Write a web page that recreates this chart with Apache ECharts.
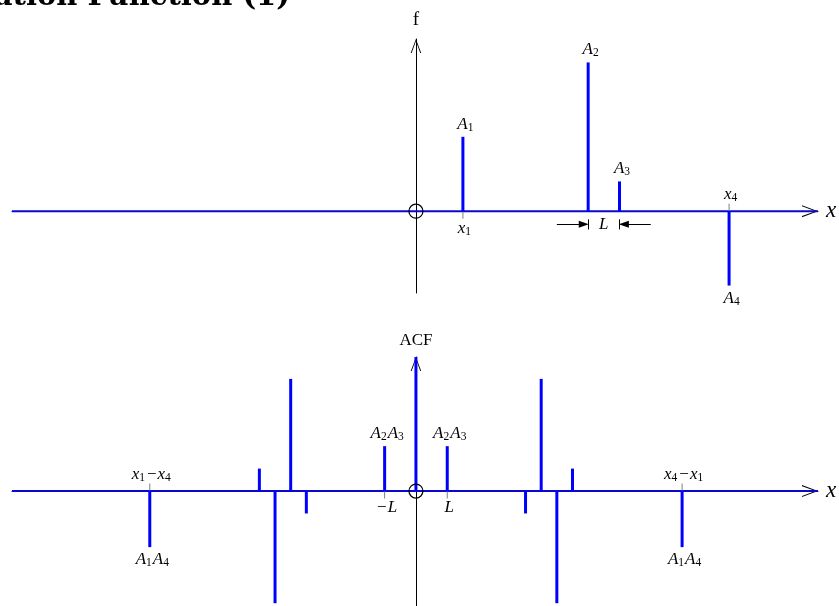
<!DOCTYPE html>
<html>
<head>
<meta charset="utf-8">
<script src="https://cdn.jsdelivr.net/npm/echarts@6/dist/echarts.min.js"></script>
<style>
  html, body { margin: 0; padding: 0; background: #fff; }
  #chart { width: 839px; height: 606px; }
</style>
</head>
<body>
<div id="chart"></div>
<script>
// Signal f(x): four impulses at x1..x4 with amplitudes A1..A4
const fPos = [1.5, 5.5, 6.5, 10];
const fAmp = [1, 2, 0.4, -1];
const fLabels = ['A1', 'A2', 'A3', 'A4'];

// Its autocorrelation: lags and values (the zero-lag peak runs off the top)
const acfLag = [-8.5, -5, -4.5, -4, -3.5, -1, 0, 1, 3.5, 4, 4.5, 5, 8.5];
const acfVal = [-1, 0.4, -2, 2, -0.4, 0.8, 2.39, 0.8, -0.4, 2, -2, 0.4, -1];
const acfLabels = ['A1A4', '', '', '', '', 'A2A3', '', 'A2A3', '', '', '', '', 'A1A4'];

// Marked positions along the x axes
const fTickPos = [1.5, 10];
const fTickLabels = ['x1', 'x4'];
const acfTickPos = [-8.5, -1, 1, 8.5];
const acfTickLabels = ['x1−x4', '−L', 'L', 'x4−x1'];

// Axis ranges
const xRange = [-12.9, 12.84];
const fRange = [-1.1, 2.315];
const acfRange = [-2.05, 2.39];

const SERIF = "'Liberation Serif', 'DejaVu Serif', serif";
const BLUE = '#0000ff';

// Math-style label: letters italic, digits as subscripts, minus upright
function mathText(s) {
  let out = '';
  for (const ch of s) {
    if (/[0-9]/.test(ch)) out += '{s|' + ch + '}';
    else if (ch === '−') out += '{m|−}';
    else out += '{i|' + ch + '}';
  }
  return out;
}
const mathRich = {
  i: { fontFamily: SERIF, fontStyle: 'italic', fontSize: 17, color: '#000' },
  s: { fontFamily: SERIF, fontSize: 11.5, color: '#000', padding: [7, 1, 0, 0] },
  m: { fontFamily: SERIF, fontSize: 17, color: '#000', padding: [0, 1, 0, 1] }
};

// Open chevron used as axis arrow heads
const chevron = 'path://M0,16 L6,0 L12,16 L10.9,16 L6,2.6 L1.1,16 Z';

function xAxisOf(gridIndex) {
  return {
    gridIndex, type: 'value', min: xRange[0], max: xRange[1],
    axisLine: {
      show: true, onZero: true,
      lineStyle: { color: '#000', width: 1 },
      symbol: ['none', chevron], symbolSize: [12, 16], symbolOffset: [0, -8]
    },
    axisTick: { show: false }, axisLabel: { show: false }, splitLine: { show: false },
    name: 'x', nameLocation: 'end', nameGap: 8,
    nameTextStyle: { fontFamily: SERIF, fontStyle: 'italic', fontSize: 23, color: '#000', verticalAlign: 'middle', padding: [0, 0, 4, 0] }
  };
}
function yAxisOf(gridIndex, range, name, gap) {
  return {
    gridIndex, type: 'value', min: range[0], max: range[1],
    axisLine: {
      show: true, onZero: true,
      lineStyle: { color: '#000', width: 1 },
      symbol: ['none', chevron], symbolSize: [12, 14], symbolOffset: [0, -7]
    },
    axisTick: { show: false }, axisLabel: { show: false }, splitLine: { show: false },
    name, nameLocation: 'end', nameGap: gap,
    nameTextStyle: { fontFamily: SERIF, fontSize: name === 'f' ? 19 : 17, color: '#000' }
  };
}

function baseline(idx) {
  return {
    type: 'line', xAxisIndex: idx, yAxisIndex: idx, silent: true, z: 3,
    data: [[xRange[0], 0], [xRange[1], 0]], symbol: 'none',
    lineStyle: { color: '#0808d0', width: 2 }
  };
}
function spikes(idx, xs, ys, labels) {
  return {
    type: 'bar', xAxisIndex: idx, yAxisIndex: idx, barWidth: 3, z: 4, silent: true,
    itemStyle: { color: BLUE },
    data: xs.map((x, i) => ({
      value: [x, ys[i]],
      label: {
        show: labels[i] !== '',
        position: ys[i] >= 0 ? 'top' : 'bottom',
        distance: 3,
        offset: [3, 0],
        formatter: mathText(labels[i]),
        rich: mathRich
      }
    }))
  };
}
// Short gray ticks on the side opposite the impulse, with their captions
function ticks(idx, xs, labels, sideOf) {
  return {
    type: 'scatter', xAxisIndex: idx, yAxisIndex: idx, z: 5, silent: true,
    symbol: 'rect',
    itemStyle: { color: '#7f7f7f', opacity: 1 },
    data: xs.map((x, i) => {
      const below = sideOf(x) > 0;
      return {
        value: [x, 0],
        symbolSize: [1, 7],
        symbolOffset: [0, below ? 4 : -4],
        label: {
          show: true,
          color: '#000',
          position: below ? 'bottom' : 'top',
          distance: 0,
          offset: [2, 0],
          formatter: mathText(labels[i]),
          rich: mathRich
        }
      };
    })
  };
}
function origin(idx) {
  return {
    type: 'scatter', xAxisIndex: idx, yAxisIndex: idx, z: 6, silent: true,
    data: [[0, 0]], symbol: 'circle', symbolSize: 14,
    itemStyle: { color: 'rgba(0,0,0,0)', borderColor: '#000', borderWidth: 1.2, opacity: 1 }
  };
}

const ampAt = (xs, ys) => x => ys[xs.indexOf(x)];

// Dimension marker showing the spacing L between x2 and x3
const dimY = -0.175;
const dimExt = [-0.11, -0.245];
const dimension = {
  type: 'line', xAxisIndex: 0, yAxisIndex: 0, data: [], silent: true, z: 5,
  markLine: {
    silent: true, animation: false,
    symbol: ['none', 'triangle'], symbolSize: [7, 10],
    lineStyle: { color: '#000', width: 1, type: 'solid' },
    label: { show: false },
    data: [
      [{ coord: [fPos[1] - 1, dimY] }, { coord: [fPos[1] - 0.14, dimY] }],
      [{ coord: [fPos[2] + 1, dimY] }, { coord: [fPos[2] + 0.14, dimY] }],
      [{ coord: [fPos[1], dimExt[0]], symbol: 'none' }, { coord: [fPos[1], dimExt[1]], symbol: 'none' }],
      [{ coord: [fPos[2], dimExt[0]], symbol: 'none' }, { coord: [fPos[2], dimExt[1]], symbol: 'none' }]
    ]
  },
  markPoint: {
    silent: true, animation: false, symbol: 'circle', symbolSize: 1,
    itemStyle: { color: 'rgba(0,0,0,0)' },
    label: { show: true, position: 'inside', formatter: mathText('L'), rich: mathRich },
    data: [{ coord: [(fPos[1] + fPos[2]) / 2, dimY] }]
  }
};

const chart = echarts.init(document.getElementById('chart'));
chart.setOption({
  animation: false,
  backgroundColor: '#fff',
  title: {
    text: 'Autocorrelation Function (1)',
    right: 549, top: -17, padding: 0,
    textStyle: { fontFamily: "'DejaVu Serif', serif", fontWeight: 'bold', fontSize: 29, color: '#000' }
  },
  grid: [
    { left: 12, right: 21, top: 39, height: 254, outerBoundsMode: 'none' },
    { left: 12, right: 21, top: 357, height: 249, outerBoundsMode: 'none' }
  ],
  xAxis: [xAxisOf(0), xAxisOf(1)],
  yAxis: [yAxisOf(0, fRange, 'f', 9), yAxisOf(1, acfRange, 'ACF', 8)],
  series: [
    baseline(0),
    spikes(0, fPos, fAmp, fLabels),
    ticks(0, fTickPos, fTickLabels, ampAt(fPos, fAmp)),
    origin(0),
    dimension,
    baseline(1),
    Object.assign(spikes(1, acfLag, acfVal, acfLabels), { clip: false }),
    ticks(1, acfTickPos, acfTickLabels, ampAt(acfLag, acfVal)),
    origin(1)
  ]
});
</script>
</body>
</html>
